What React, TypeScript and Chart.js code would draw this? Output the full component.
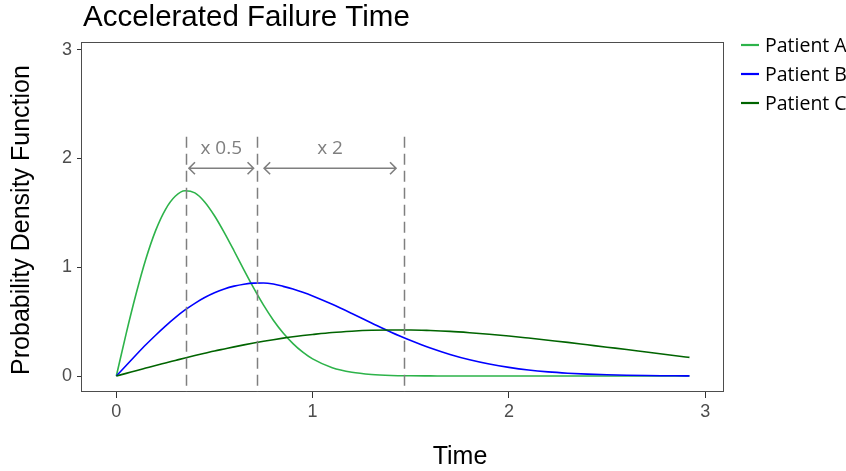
import { useEffect, useRef } from "react";
import { Chart, registerables } from "chart.js";

Chart.register(...registerables);

// Time grid shared by the three density curves
const time = [
  0, 0.05, 0.1, 0.15, 0.2, 0.25, 0.3, 0.35, 0.4, 0.45, 0.5, 0.55, 0.6, 0.65, 0.7, 0.75, 0.8, 0.85, 0.9, 0.95, 1.0,
  1.1, 1.2, 1.3, 1.4, 1.5, 1.6, 1.7, 1.8, 1.9, 2.0, 2.1, 2.2, 2.3, 2.4, 2.5, 2.6, 2.7, 2.8, 2.9, 2.92,
];

const patientA = [
  0, 0.39, 0.751, 1.073, 1.336, 1.53, 1.652, 1.703, 1.683, 1.6, 1.473, 1.318, 1.149, 0.975, 0.807, 0.651, 0.513, 0.395, 0.298, 0.219, 0.157,
  0.076, 0.034, 0.014, 0.005, 0.002, 0.001, 0, 0, 0, 0, 0, 0, 0, 0, 0, 0, 0, 0, 0, 0,
];

const patientB = [
  0, 0.097, 0.193, 0.287, 0.375, 0.459, 0.537, 0.607, 0.668, 0.721, 0.765, 0.8, 0.826, 0.844, 0.854, 0.855, 0.845, 0.824, 0.8, 0.77, 0.736,
  0.659, 0.575, 0.488, 0.402, 0.326, 0.257, 0.198, 0.149, 0.11, 0.079, 0.055, 0.038, 0.026, 0.017, 0.011, 0.007, 0.004, 0.0025, 0.0015, 0.001,
];

const patientC = [
  0, 0.024, 0.049, 0.073, 0.097, 0.12, 0.143, 0.166, 0.188, 0.209, 0.23, 0.249, 0.268, 0.286, 0.303, 0.319, 0.334, 0.348, 0.361, 0.372, 0.382,
  0.4, 0.412, 0.42, 0.423, 0.423, 0.418, 0.41, 0.398, 0.384, 0.368, 0.349, 0.329, 0.309, 0.287, 0.265, 0.244, 0.22, 0.197, 0.175, 0.171,
];

const seriesNames = ["Patient A", "Patient B", "Patient C"];
const seriesColors = ["#2db34a", "#0000ff", "#006400"];
const seriesValues = [patientA, patientB, patientC];

const xTicks = [0, 1, 2, 3];
const yTicks = [0, 1, 2, 3];

// Modes of each curve, marked with dashed verticals
const modeTimes = [0.355, 0.717, 1.466];
const dashTop = 2.2;

// Time-scaling arrows between the modes
const arrowStarts = [0.37, 0.753];
const arrowEnds = [0.699, 1.425];
const arrowLevel = 1.91;
const ratioLabels = ["x 0.5", "x 2"];
const ratioLabelLevel = 2.09;

const TITLE = "Accelerated Failure Time";
const X_TITLE = "Time";
const Y_TITLE = "Probability Density Function";

const GREY = "#7f7f7f";

const decorations = {
  id: "decorations",
  beforeDatasetsDraw(chart: any) {
    const { ctx, chartArea } = chart;
    ctx.save();
    ctx.strokeStyle = "#4d4d4d";
    ctx.lineWidth = 1;
    ctx.strokeRect(
      Math.round(chartArea.left) - 0.5,
      Math.round(chartArea.top) + 0.5,
      Math.round(chartArea.right - chartArea.left),
      Math.round(chartArea.bottom - chartArea.top) - 1
    );
    ctx.restore();
  },
  afterDatasetsDraw(chart: any) {
    const { ctx, chartArea } = chart;
    const x = chart.scales.x;
    const y = chart.scales.y;
    ctx.save();

    // dashed mode lines
    ctx.strokeStyle = GREY;
    ctx.lineWidth = 1.5;
    ctx.setLineDash([11, 6]);
    modeTimes.forEach((t) => {
      const px = Math.round(x.getPixelForValue(t)) + 0.5;
      ctx.beginPath();
      ctx.moveTo(px, y.getPixelForValue(dashTop));
      ctx.lineTo(px, chartArea.bottom);
      ctx.stroke();
    });
    ctx.setLineDash([]);

    // double-headed arrows
    ctx.lineWidth = 1.6;
    const ay = y.getPixelForValue(arrowLevel);
    arrowStarts.forEach((s, i) => {
      const x0 = x.getPixelForValue(s);
      const x1 = x.getPixelForValue(arrowEnds[i]);
      ctx.beginPath();
      ctx.moveTo(x0, ay);
      ctx.lineTo(x1, ay);
      ctx.moveTo(x0 + 6, ay - 6);
      ctx.lineTo(x0, ay);
      ctx.lineTo(x0 + 6, ay + 6);
      ctx.moveTo(x1 - 6, ay - 6);
      ctx.lineTo(x1, ay);
      ctx.lineTo(x1 - 6, ay + 6);
      ctx.stroke();
    });

    // ratio labels
    ctx.fillStyle = GREY;
    ctx.font = "19px 'Open Sans'";
    ctx.textAlign = "center";
    ctx.textBaseline = "middle";
    const ly = y.getPixelForValue(ratioLabelLevel);
    ratioLabels.forEach((label, i) => {
      const mid = (arrowStarts[i] + arrowEnds[i]) / 2;
      ctx.fillText(label, x.getPixelForValue(mid), ly);
    });
    ctx.restore();
  },
  afterDraw(chart: any) {
    const { ctx } = chart;
    ctx.save();
    ctx.fillStyle = "#000";

    // chart title
    ctx.font = "29.5px 'Liberation Sans'";
    ctx.textAlign = "left";
    ctx.textBaseline = "alphabetic";
    ctx.fillText(TITLE, 83, 26);

    // axis titles
    ctx.font = "25px 'Liberation Sans'";
    ctx.textAlign = "center";
    ctx.textBaseline = "middle";
    ctx.fillText(X_TITLE, 460, 457);
    ctx.translate(22, 220);
    ctx.rotate(-Math.PI / 2);
    ctx.fillText(Y_TITLE, 0, 0);
    ctx.restore();

    // legend
    ctx.save();
    ctx.font = "19.5px 'Open Sans'";
    ctx.textAlign = "left";
    ctx.textBaseline = "middle";
    seriesNames.forEach((name, i) => {
      const ly = 45 + 29 * i;
      ctx.strokeStyle = seriesColors[i];
      ctx.lineWidth = 2.2;
      ctx.beginPath();
      ctx.moveTo(741, ly);
      ctx.lineTo(759, ly);
      ctx.stroke();
      ctx.fillStyle = "#000";
      ctx.fillText(name, 765, ly + 1);
    });
    ctx.restore();
  },
};

export default function App() {
  const canvasRef = useRef<HTMLCanvasElement | null>(null);

  useEffect(() => {
    const canvas = canvasRef.current;
    if (!canvas) return;

    const tickFont = { family: "'Liberation Sans'", size: 18 };

    const chart = new Chart(canvas, {
      type: "line",
      data: {
        datasets: seriesNames.map((name, i) => ({
          label: name,
          data: time.map((t, j) => ({ x: t, y: seriesValues[i][j] })),
          borderColor: seriesColors[i],
          backgroundColor: seriesColors[i],
          borderWidth: 1.6,
          pointRadius: 0,
          fill: false,
          cubicInterpolationMode: "monotone" as const,
          order: 3 - i,
        })),
      },
      options: {
        animation: false,
        responsive: false,
        devicePixelRatio: 1,
        layout: { padding: { left: 0, right: 122, top: 42, bottom: 0 } },
        plugins: {
          legend: { display: false },
          title: { display: false },
          tooltip: { enabled: false },
        },
        scales: {
          x: {
            type: "linear",
            min: -0.175,
            max: 3.096,
            afterBuildTicks: (s: any) => {
              s.ticks = xTicks.map((v) => ({ value: v }));
            },
            afterFit: (s: any) => {
              s.height = 79;
            },
            grid: { drawOnChartArea: false, drawTicks: true, tickLength: 6, color: "#333333", lineWidth: 1 },
            border: { display: false },
            ticks: { font: tickFont, color: "#4d4d4d", padding: 3, maxRotation: 0 },
          },
          y: {
            type: "linear",
            min: -0.147,
            max: 3.07,
            afterBuildTicks: (s: any) => {
              s.ticks = yTicks.map((v) => ({ value: v }));
            },
            afterFit: (s: any) => {
              s.width = 82;
            },
            grid: { drawOnChartArea: false, drawTicks: true, tickLength: 5, color: "#333333", lineWidth: 1 },
            border: { display: false },
            ticks: { font: tickFont, color: "#4d4d4d", padding: 5 },
          },
        },
      },
      plugins: [decorations],
    });

    return () => chart.destroy();
  }, []);

  return (
    <div style={{ position: "absolute", left: 0, top: 0, width: 846, height: 471, background: "#fff" }}>
      <canvas ref={canvasRef} width={846} height={471} style={{ width: 846, height: 471, display: "block" }} />
    </div>
  );
}
